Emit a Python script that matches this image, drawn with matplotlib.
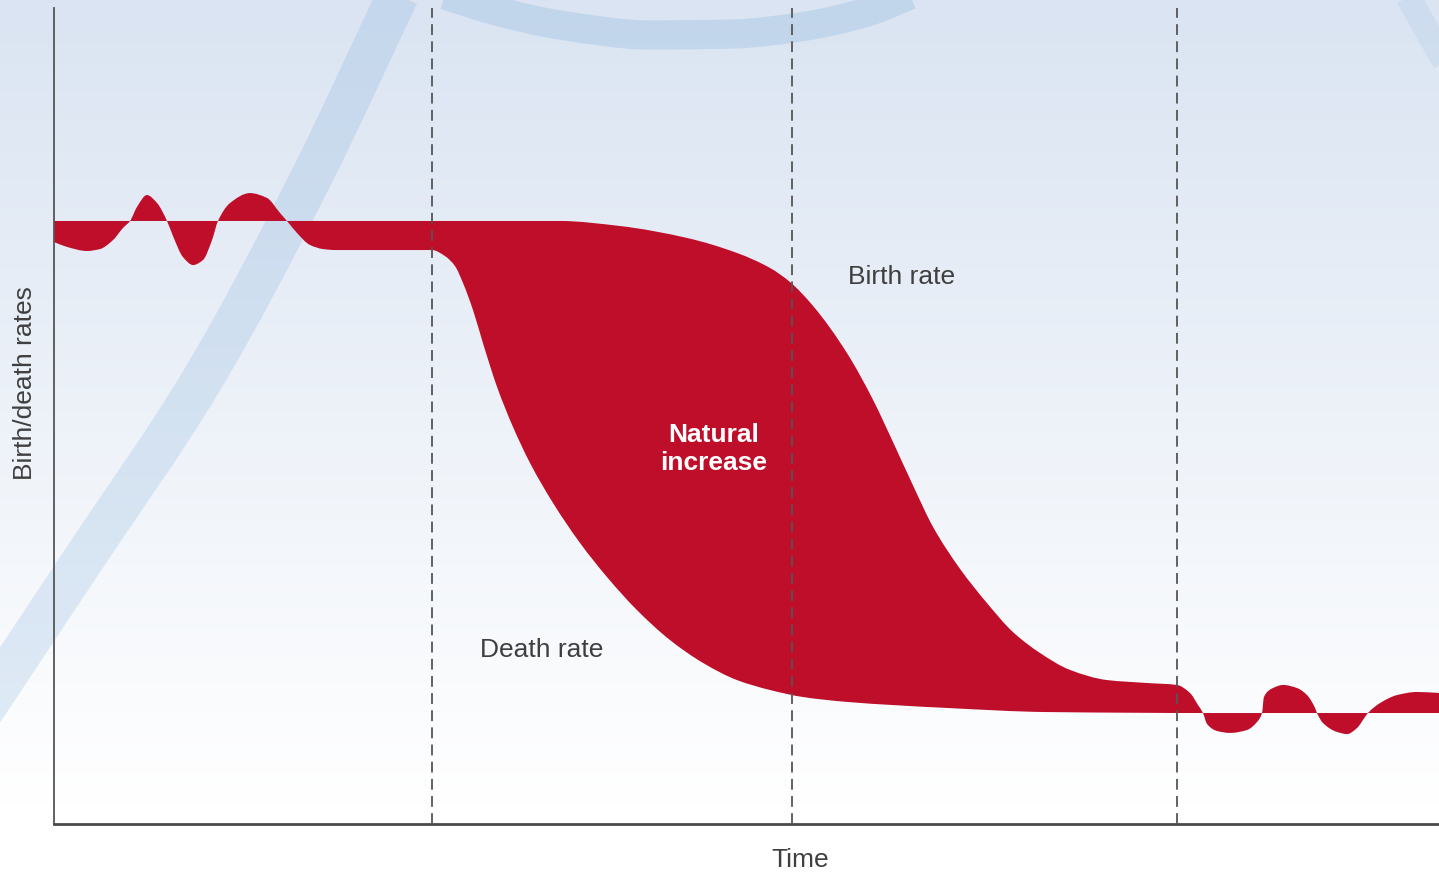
import numpy as np
import matplotlib
matplotlib.use('Agg')
import matplotlib.pyplot as plt
from matplotlib.path import Path
from matplotlib.patches import PathPatch

plt.rcParams['font.family'] = ['Liberation Sans', 'DejaVu Sans']

# demographic transition: time (0-100) vs rate (per 1000)
birth_t = [0.0, 36.53, 40.87, 45.70, 49.31, 51.70, 53.14, 54.80, 57.26, 59.13,
           60.58, 62.02, 63.47, 65.42, 67.36, 69.24, 71.19, 73.36, 76.03, 78.92,
           81.08, 82.02, 82.60, 82.96, 83.25, 83.97, 84.91, 86.14, 86.86, 87.22,
           87.36, 88.01, 88.74, 89.75, 90.47, 91.05, 91.19, 91.62, 92.64, 93.36,
           94.08, 94.66, 94.87, 95.74, 96.97, 98.41, 100.0]
birth_r = [36.95, 36.95, 36.64, 35.91, 34.99, 34.07, 33.21, 31.75, 28.85, 26.00,
           23.40, 20.75, 18.20, 15.63, 13.54, 11.76, 10.48, 9.44, 8.82, 8.64,
           8.52, 8.03, 7.29, 6.80, 6.13, 5.70, 5.58, 5.76, 6.25, 6.80,
           7.78, 8.33, 8.52, 8.33, 7.90, 7.11, 6.80, 6.19, 5.64, 5.51,
           5.88, 6.56, 6.80, 7.41, 7.90, 8.09, 8.03]

death_t = [0.0, 0.94, 2.38, 3.32, 4.26, 4.98, 5.49, 5.99, 6.71, 7.44,
           8.16, 8.59, 9.31, 10.04, 10.76, 11.41, 11.84, 12.71, 14.15, 15.38,
           16.32, 16.82, 17.55, 18.48, 19.42, 20.29, 27.29, 28.23, 28.95, 29.53,
           30.25, 30.97, 31.99, 33.14, 34.37, 36.03, 37.98, 39.93, 42.09, 44.48,
           46.86, 49.31, 51.70, 54.08, 57.26, 64.48, 71.70, 83.68, 100.0]
death_r = [35.66, 35.36, 35.11, 35.23, 35.78, 36.52, 36.95, 37.81, 38.54, 38.05,
           36.95, 36.03, 34.74, 34.25, 34.56, 35.78, 36.95, 38.05, 38.66, 38.36,
           37.44, 36.95, 36.21, 35.48, 35.23, 35.17, 35.17, 34.80, 34.19, 33.15,
           31.50, 29.47, 26.78, 24.33, 22.12, 19.67, 17.22, 15.13, 13.11, 11.27,
           9.87, 8.82, 8.21, 7.78, 7.48, 7.11, 6.86, 6.80, 6.80]

stage_bounds = [27.29, 53.29, 81.08]

red = '#be0e2a'
ink = '#3f3f3f'


def bezier_through(x, y):
    # cubic bezier pieces through the read points, monotone tangents (no overshoot)
    x = np.asarray(x, float)
    y = np.asarray(y, float)
    h = np.diff(x)
    d = np.diff(y) / h
    m = np.zeros_like(x)
    m[0], m[-1] = d[0], d[-1]
    for k in range(1, len(x) - 1):
        if d[k - 1] * d[k] > 0:
            w1 = 2 * h[k] + h[k - 1]
            w2 = h[k] + 2 * h[k - 1]
            m[k] = (w1 + w2) / (w1 / d[k - 1] + w2 / d[k])
    verts = [(x[0], y[0])]
    for k in range(len(x) - 1):
        verts.append((x[k] + h[k] / 3, y[k] + m[k] * h[k] / 3))
        verts.append((x[k + 1] - h[k] / 3, y[k + 1] - m[k + 1] * h[k] / 3))
        verts.append((x[k + 1], y[k + 1]))
    return verts


fig = plt.figure(figsize=(14.39, 8.73), dpi=100)

# background gradient + decorative population bands
bg = fig.add_axes([0, 0, 1, 1], zorder=-1)
top = np.array([0.855, 0.894, 0.949])
grad = np.linspace(0, 1, 400)[:, None]
w = np.clip(grad / 0.92, 0, 1)
img = top[None, None, :] * (1 - w[..., None]) + 1.0 * w[..., None]
img = np.repeat(img, 2, axis=1)
bg.imshow(img, extent=[0, 1439, 873, 0], aspect='auto')
band_left = ([-30, 83, 202, 310, 398], [730, 560, 380, 180, -5])
band_top = ([445, 500, 560, 650, 733, 800, 867, 910], [-5, 12, 25, 35, 34, 27, 12, -5])
band_right = ([1408, 1445], [-3, 62])
for xs, ys, lw, a in [(band_left[0], band_left[1], 30, 0.22),
                      (band_top[0], band_top[1], 21, 0.25),
                      (band_right[0], band_right[1], 18, 0.13)]:
    p = Path(bezier_through(xs, ys),
             [Path.MOVETO] + [Path.CURVE4] * (3 * (len(xs) - 1)))
    bg.add_patch(PathPatch(p, facecolor='none', edgecolor='#7aaad8',
                           alpha=a, lw=lw, capstyle='butt'))
bg.set_xlim(0, 1439)
bg.set_ylim(873, 0)
bg.axis('off')

ax = fig.add_axes([54 / 1439, 49 / 873, 1385 / 1439, 816 / 873])
ax.patch.set_alpha(0)

top_v = bezier_through(birth_t, birth_r)
bot_v = bezier_through(death_t, death_r)[::-1]
verts = top_v + bot_v + [top_v[0]]
codes = ([Path.MOVETO] + [Path.CURVE4] * (len(top_v) - 1) +
         [Path.LINETO] + [Path.CURVE4] * (len(bot_v) - 1) + [Path.CLOSEPOLY])
ax.add_patch(PathPatch(Path(verts, codes), facecolor=red, lw=0, zorder=2))

ax.vlines(stage_bounds, 0, 50, colors='#555555', lw=1.3,
          linestyles=(0, (6, 3.5)), zorder=3)

ax.set_xlim(0, 100)
ax.set_ylim(0, 50)
ax.set_xticks([])
ax.set_yticks([])
for s in ['top', 'right']:
    ax.spines[s].set_visible(False)
ax.spines['left'].set_color('#555555')
ax.spines['left'].set_linewidth(1.3)
ax.spines['bottom'].set_color('#4a4a4a')
ax.spines['bottom'].set_linewidth(2)

ax.text(61.23, 33.52, 'Birth rate', fontsize=19, color=ink, ha='center', va='center')
ax.text(35.23, 10.66, 'Death rate', fontsize=19, color=ink, ha='center', va='center')
ax.text(47.65, 22.98, 'Natural\nincrease', fontsize=19, color='white',
        fontweight='bold', ha='center', va='center', linespacing=1.25, zorder=4)

fig.text(800 / 1439, 1 - 860 / 873, 'Time', fontsize=19, color=ink,
         ha='center', va='center')
fig.text(25 / 1439, 1 - 383 / 873, 'Birth/death rates', fontsize=19, color=ink,
         ha='center', va='center', rotation=90)

fig.savefig('out.png', dpi=100)
